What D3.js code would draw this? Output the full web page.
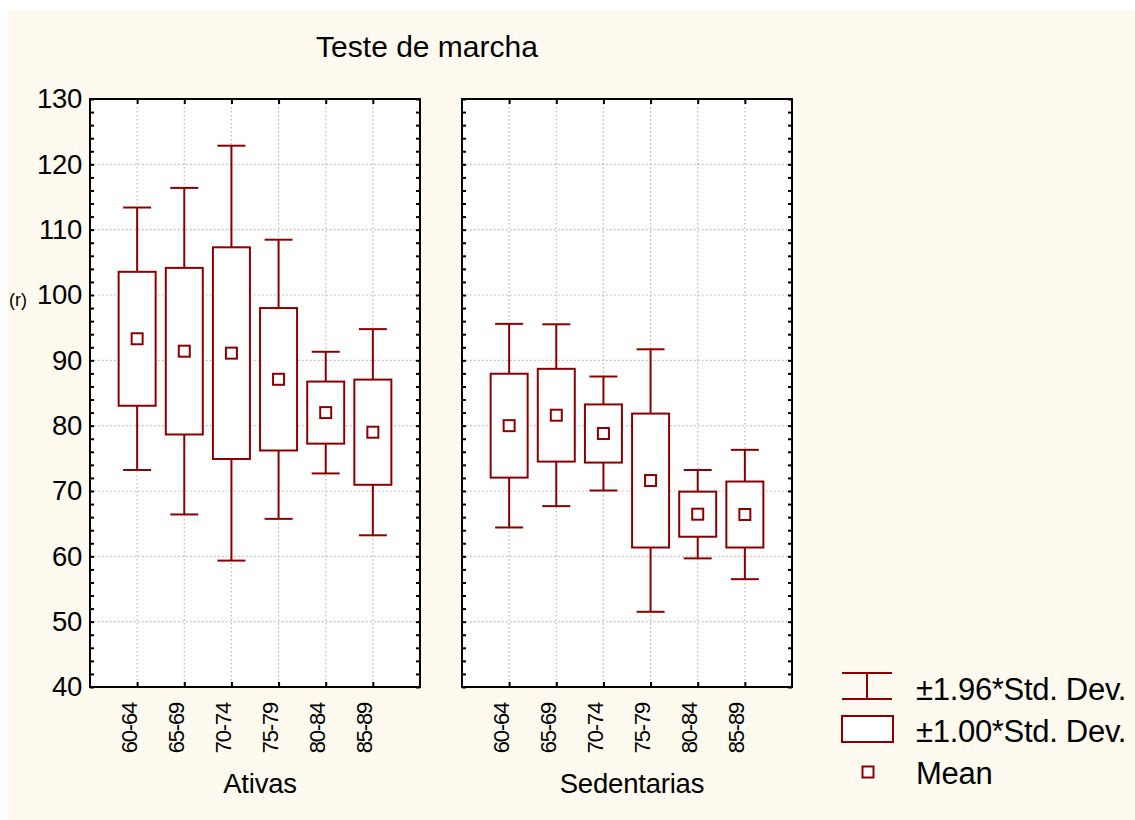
<!DOCTYPE html>
<html>
<head>
<meta charset="utf-8">
<script src="https://cdn.jsdelivr.net/npm/d3@7"></script>
<style>
  body { margin: 0; background: #fff; }
  svg text { font-family: "Liberation Sans", Arial, sans-serif; fill: #000; }
</style>
</head>
<body>
<svg id="chart" width="1135" height="820"></svg>
<script>
// grupos de idade
const ageGroups = ['60-64', '65-69', '70-74', '75-79', '80-84', '85-89'];
const groups = ['Ativas', 'Sedentarias'];
// media e desvio padrao
const meanAtivas = [93.3, 91.4, 91.1, 87.1, 82.0, 79.0];
const sdAtivas = [10.25, 12.75, 16.2, 10.9, 4.75, 8.05];
const meanSedentarias = [80.0, 81.6, 78.8, 71.6, 66.45, 66.4];
const sdSedentarias = [7.95, 7.1, 4.45, 10.25, 3.45, 5.05];
const yTicks = [40, 50, 60, 70, 80, 90, 100, 110, 120, 130];
const legendLabels = ['\u00b11.96*Std. Dev.', '\u00b11.00*Std. Dev.', 'Mean'];

const red = '#8b0000';
let svg = d3.select('#chart');

//fundo creme
svg.append('rect')
    .attr('x', 8).attr('y', 10)
    .attr('width', 1127).attr('height', 810)
    .attr('fill', '#fefaef');

svg.append('text')
    .attr('x', 427).attr('y', 57)
    .attr('text-anchor', 'middle')
    .style('font-size', '30px')
    .text('Teste de marcha');

let y = d3.scaleLinear().domain([40, 130]).range([687, 99]);

let panels = [
    {name: groups[0], left: 90, means: meanAtivas, sds: sdAtivas},
    {name: groups[1], left: 462, means: meanSedentarias, sds: sdSedentarias}
];
let panelWidth = 330;

panels.forEach(function(p, pi){
    let x = d3.scalePoint().domain(ageGroups).range([p.left, p.left + panelWidth]).padding(1);
    let g = svg.append('g').attr('class', 'd3-panel');

    g.append('rect')
        .attr('x', p.left).attr('y', y(130))
        .attr('width', panelWidth).attr('height', y(40) - y(130))
        .attr('fill', '#fff');

    //grade pontilhada
    g.append('g').selectAll('line')
        .data(yTicks.slice(1, -1))
        .enter().append('line')
        .attr('x1', p.left).attr('x2', p.left + panelWidth)
        .attr('y1', d => y(d)).attr('y2', d => y(d))
        .attr('stroke', '#b8b8b8').attr('stroke-width', 1.2)
        .attr('stroke-dasharray', '1.5,2.5');
    g.append('g').selectAll('line')
        .data(ageGroups)
        .enter().append('line')
        .attr('x1', d => x(d)).attr('x2', d => x(d))
        .attr('y1', y(130)).attr('y2', y(40))
        .attr('stroke', '#b8b8b8').attr('stroke-width', 1.2)
        .attr('stroke-dasharray', '1.5,2.5');

    //eixos
    let minor = d3.range(40, 131, 2);
    let leftAxis = g.append('g')
        .attr('transform', `translate(${p.left},0)`)
        .call(d3.axisLeft(y).tickValues(minor).tickSize(-4).tickPadding(8)
            .tickFormat(d => (pi === 0 && d % 10 === 0) ? d : ''));
    g.append('g')
        .attr('transform', `translate(${p.left + panelWidth},0)`)
        .call(d3.axisRight(y).tickValues(minor).tickSize(-4).tickFormat(''));
    g.append('g')
        .attr('transform', `translate(0,${y(130)})`)
        .call(d3.axisTop(x).tickSize(-5).tickFormat(''));
    let bottomAxis = g.append('g')
        .attr('transform', `translate(0,${y(40)})`)
        .call(d3.axisBottom(x).tickSize(-5));
    g.selectAll('.domain').remove();
    g.selectAll('.tick line').attr('stroke', '#000').attr('stroke-width', 2);
    leftAxis.selectAll('text')
        .style('font-size', '27.5px')
        .style('letter-spacing', '-0.3px');
    bottomAxis.selectAll('text')
        .attr('transform', 'rotate(-90)')
        .attr('text-anchor', 'end')
        .attr('x', -16).attr('y', -1).attr('dy', 0)
        .style('font-size', '22px')
        .style('letter-spacing', '-1.2px');

    g.append('rect')
        .attr('x', p.left).attr('y', y(130))
        .attr('width', panelWidth).attr('height', y(40) - y(130))
        .attr('fill', 'none').attr('stroke', '#000').attr('stroke-width', 2);

    //caixas
    let boxes = g.append('g').attr('class', 'd3-boxes')
        .selectAll('g')
        .data(ageGroups.map((a, i) => ({age: a, m: p.means[i], sd: p.sds[i]})))
        .enter().append('g');
    boxes.append('line')
        .attr('x1', d => x(d.age)).attr('x2', d => x(d.age))
        .attr('y1', d => y(d.m + 1.96 * d.sd)).attr('y2', d => y(d.m - 1.96 * d.sd))
        .attr('stroke', red).attr('stroke-width', 2);
    [1.96, -1.96].forEach(function(k){
        boxes.append('line')
            .attr('x1', d => x(d.age) - 14).attr('x2', d => x(d.age) + 14)
            .attr('y1', d => y(d.m + k * d.sd)).attr('y2', d => y(d.m + k * d.sd))
            .attr('stroke', red).attr('stroke-width', 2);
    });
    boxes.append('rect')
        .attr('x', d => x(d.age) - 18.5).attr('width', 37)
        .attr('y', d => y(d.m + d.sd)).attr('height', d => y(d.m - d.sd) - y(d.m + d.sd))
        .attr('fill', '#fff').attr('stroke', red).attr('stroke-width', 2);
    boxes.append('rect')
        .attr('x', d => x(d.age) - 5.5).attr('width', 11)
        .attr('y', d => y(d.m) - 5.5).attr('height', 11)
        .attr('fill', '#fff').attr('stroke', red).attr('stroke-width', 2);

    svg.append('text')
        .attr('x', p.left + panelWidth / 2 + 5).attr('y', 793)
        .attr('text-anchor', 'middle')
        .style('font-size', '27.5px')
        .style('letter-spacing', '-0.2px')
        .text(p.name);
});

svg.append('text')
    .attr('x', 9).attr('y', 306)
    .style('font-size', '18px')
    .text('(r)');

//legenda
let legend = svg.append('g').attr('class', 'd3-legend');
legend.append('line').attr('x1', 842).attr('x2', 892).attr('y1', 673).attr('y2', 673)
    .attr('stroke', red).attr('stroke-width', 2);
legend.append('line').attr('x1', 842).attr('x2', 892).attr('y1', 699).attr('y2', 699)
    .attr('stroke', red).attr('stroke-width', 2);
legend.append('line').attr('x1', 867).attr('x2', 867).attr('y1', 673).attr('y2', 699)
    .attr('stroke', red).attr('stroke-width', 2);
legend.append('rect').attr('x', 842).attr('y', 716).attr('width', 51).attr('height', 26)
    .attr('fill', '#fff').attr('stroke', red).attr('stroke-width', 2);
legend.append('rect').attr('x', 862.5).attr('y', 766.5).attr('width', 11).attr('height', 11)
    .attr('fill', '#fff').attr('stroke', red).attr('stroke-width', 2);
legend.selectAll('text')
    .data(legendLabels)
    .enter().append('text')
    .attr('x', 916)
    .attr('y', (d, i) => 700 + i * 42)
    .style('font-size', '31px')
    .style('letter-spacing', '-0.3px')
    .text(d => d);
</script>
</body>
</html>
